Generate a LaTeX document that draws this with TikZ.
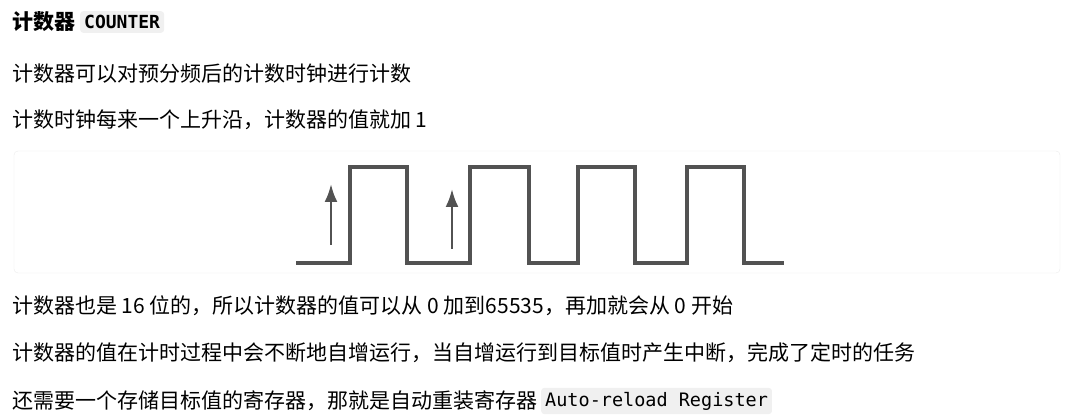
\documentclass[tikz,border=0pt]{standalone}
\usepackage{fontspec}
\usetikzlibrary{arrows.meta}
\setmainfont{Noto Sans CJK SC}
\newfontfamily\codefont{DejaVu Sans Mono}
\begin{document}
\begin{tikzpicture}[x=1pt,y=-1pt,
  txt/.style={anchor=west,inner sep=0pt,font=\fontsize{21}{21}\selectfont},
  code/.style={fill=black!6,rounded corners=3pt,inner xsep=4pt,inner ysep=4pt,anchor=west,font=\codefont\fontsize{18.5}{18.5}\selectfont},
  wave/.style={line width=3.2pt,draw=black!68},
  arr/.style={line width=2.6pt,draw=black!68,-{Latex[length=18pt,width=13pt]}}]
\useasboundingbox (0,0) rectangle (1068,419);
\node[txt,font=\bfseries\fontsize{21}{21}\selectfont] (t1) at (12,22) {计数器};
\node[code,font=\codefont\bfseries\fontsize{18}{18}\selectfont] (c1) at (80,22) {COUNTER};
\node[txt] (t2) at (12,74) {计数器可以对预分频后的计数时钟进行计数};
\node[txt] (t3) at (12,120) {计数时钟每来一个上升沿，计数器的值就加 1};
\draw[black!8,rounded corners=4pt] (14,151) rectangle (1060,273);
\draw[wave] (296,263) -- (350,263) -- (350,167) -- (407,167) -- (407,263) -- (470,263) -- (470,167) -- (529,167) -- (529,263) -- (578,263) -- (578,167) -- (635,167) -- (635,263) -- (687,263) -- (687,167) -- (744,167) -- (744,263) -- (784,263);
\coordinate (a1s) at (331,245); \coordinate (a1e) at (331,184);
\coordinate (a2s) at (452,249); \coordinate (a2e) at (452,189);
\draw[arr] (a1s) -- (a1e);
\draw[arr] (a2s) -- (a2e);
\node[txt] (t4) at (12,306) {计数器也是 16 位的，所以计数器的值可以从 0 加到65535，再加就会从 0 开始};
\node[txt] (t5) at (12,353) {计数器的值在计时过程中会不断地自增运行，当自增运行到目标值时产生中断，完成了定时的任务};
\node[txt] (t6) at (12,401) {还需要一个存储目标值的寄存器，那就是自动重装寄存器};
\node[code] (c2) at (541,401) {Auto-reload Register};
\end{tikzpicture}
\end{document}
